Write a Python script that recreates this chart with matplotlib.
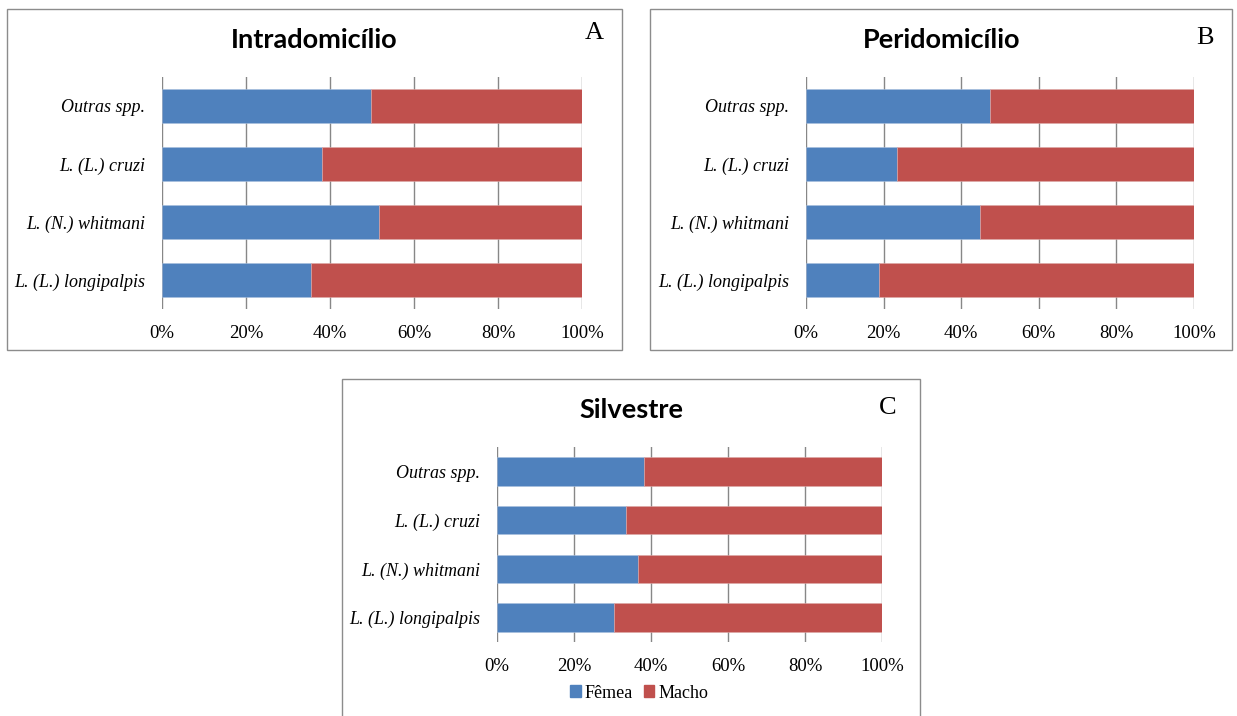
import numpy as np
import matplotlib.pyplot as plt
from matplotlib.patches import Rectangle, Patch

W, H = 1237, 716

species = ['L. (L.) longipalpis', 'L. (N.) whitmani', 'L. (L.) cruzi', 'Outras spp.']
femea_intra = [35.5, 51.7, 38.0, 49.8]
femea_peri = [18.9, 44.8, 23.5, 47.5]
femea_silv = [30.3, 36.7, 33.4, 38.2]
titles = ['Intradomicílio', 'Peridomicílio', 'Silvestre']
letters = ['A', 'B', 'C']
ticks = [0, 20, 40, 60, 80, 100]
tick_labels = ['0%', '20%', '40%', '60%', '80%', '100%']

BLUE = '#4F81BD'
RED = '#C0504D'
GRID = '#878787'
SERIF = 'Liberation Serif'
TITLE_FONT = 'Lato'


def px_axes(fig, left, right, top, bottom):
    return fig.add_axes([left / W, 1 - bottom / H, (right - left) / W, (bottom - top) / H])


def panel(fig, ax, femea, title, letter, box, title_xy, letter_xy):
    y = np.arange(len(species))
    macho = [100 - f for f in femea]
    ax.barh(y, femea, height=0.58, color=BLUE, edgecolor='#A9C0DE', linewidth=0.4, zorder=3)
    ax.barh(y, macho, left=femea, height=0.58, color=RED, edgecolor='#DDA9A8', linewidth=0.4, zorder=3)
    ax.set_xlim(0, 100)
    ax.set_ylim(-0.5, len(species) - 0.5)
    ax.set_xticks(ticks)
    ax.set_xticklabels(tick_labels, fontfamily=SERIF, fontsize=13.5)
    ax.set_yticks(y)
    ax.set_yticklabels(species, fontfamily=SERIF, fontsize=13, style='italic')
    ax.tick_params(axis='both', length=0)
    ax.tick_params(axis='x', pad=11.5)
    ax.tick_params(axis='y', pad=12)
    for s in ax.spines.values():
        s.set_visible(False)
    ax.grid(axis='x', color=GRID, linewidth=1.0, zorder=0)
    ax.set_axisbelow(True)
    # panel frame
    x0, y0, x1, y1 = box
    fig.patches.append(Rectangle((x0 / W, 1 - y1 / H), (x1 - x0) / W, (y1 - y0) / H,
                                 transform=fig.transFigure, fill=False,
                                 edgecolor='#8c8c8c', linewidth=1.0))
    fig.text(title_xy[0] / W, 1 - title_xy[1] / H, title, ha='center', va='center',
             fontfamily=TITLE_FONT, fontweight='bold', fontsize=19.5)
    fig.text(letter_xy[0] / W, 1 - letter_xy[1] / H, letter, ha='center', va='center',
             fontfamily=SERIF, fontsize=19)


fig = plt.figure(figsize=(W / 100, H / 100), dpi=100)

axA = px_axes(fig, 162, 582, 77, 309)
panel(fig, axA, femea_intra, titles[0], letters[0], (7, 9, 622, 350), (314, 40), (594, 33))

axB = px_axes(fig, 806, 1194, 77, 309)
panel(fig, axB, femea_peri, titles[1], letters[1], (650, 9, 1232, 350), (942, 40), (1205, 38))

axC = px_axes(fig, 497, 882, 447, 642)
panel(fig, axC, femea_silv, titles[2], letters[2], (342, 379, 920, 740), (631, 410), (888, 408))

handles = [Patch(color=BLUE, label='Fêmea'), Patch(color=RED, label='Macho')]
fig.legend(handles=handles, loc='center', bbox_to_anchor=(639 / W, 1 - 693 / H), ncol=2,
           frameon=False, prop={'family': SERIF, 'size': 13}, handlelength=0.6,
           handleheight=0.6, handletextpad=0.2, columnspacing=0.6)

fig.savefig('out.png', dpi=100)
